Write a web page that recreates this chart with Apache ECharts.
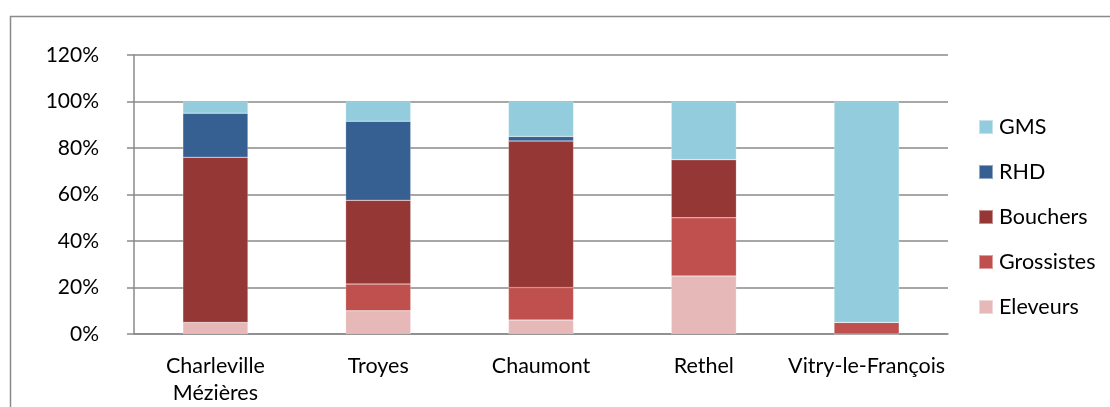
<!DOCTYPE html>
<html>
<head>
<meta charset="utf-8">
<script src="https://cdn.jsdelivr.net/npm/echarts@6/dist/echarts.min.js"></script>
<style>
html,body{margin:0;padding:0;background:#fff;}
#c{width:1110px;height:407px;}
</style>
</head>
<body>
<div id="c"></div>
<script>
const categories = ['Charleville\nMézières', 'Troyes', 'Chaumont', 'Rethel', 'Vitry-le-François'];
const eleveurs   = [5, 10, 6, 25, 0];
const grossistes = [0, 11.5, 14, 25, 5];
const bouchers   = [71, 36, 63, 25, 0];
const rhd        = [19, 34, 2, 0, 0];
const gms        = [5, 8.5, 15, 25, 95];
const yTicks = [0, 20, 40, 60, 80, 100, 120];

const colors = {
  Eleveurs: '#E6B9B8',
  Grossistes: '#C0504D',
  Bouchers: '#953735',
  RHD: '#376092',
  GMS: '#93CDDD'
};
const font = 'Lato, "Open Sans", sans-serif';

function mk(name, data) {
  return {
    name: name, type: 'bar', stack: 'all', data: data,
    barWidth: '40%',
    itemStyle: { color: colors[name], borderColor: 'rgba(255,255,255,0.45)', borderWidth: 0.5 },
    emphasis: { disabled: true }
  };
}

const chart = echarts.init(document.getElementById('c'), null, { renderer: 'canvas' });
chart.setOption({
  animation: false,
  backgroundColor: '#fff',
  graphic: [{
    type: 'rect', left: 8, top: 14, z: -1,
    shape: { x: 0, y: 0, width: 1200, height: 500 },
    style: { fill: 'none', stroke: '#8a8a8a', lineWidth: 1.5 }
  }],
  grid: { left: 134, right: 162, top: 55, bottom: 73 },
  legend: {
    orient: 'vertical', left: 973, top: 111,
    itemWidth: 14, itemHeight: 14, itemGap: 23,
    icon: 'rect',
    data: ['GMS', 'RHD', 'Bouchers', 'Grossistes', 'Eleveurs'],
    textStyle: { fontFamily: font, fontSize: 21.5, lineHeight: 20, color: '#000', padding: [0, 0, 0, 1] }
  },
  xAxis: {
    type: 'category', data: categories,
    axisLine: { lineStyle: { color: '#8a8a8a', width: 1.5 } },
    axisTick: { length: 7, lineStyle: { color: '#8a8a8a', width: 1.5 } },
    axisLabel: { fontFamily: font, fontSize: 21.5, color: '#000', margin: 19, lineHeight: 27, interval: 0 }
  },
  yAxis: {
    type: 'value', min: 0, max: 120, interval: 20,
    axisLine: { show: true, lineStyle: { color: '#8a8a8a', width: 1.5 } },
    axisTick: { show: true, length: 7, lineStyle: { color: '#8a8a8a', width: 1.5 } },
    splitLine: { lineStyle: { color: '#8a8a8a', width: 1.5 } },
    axisLabel: {
      fontFamily: font, fontSize: 21, color: '#000', margin: 35,
      formatter: v => yTicks.includes(v) ? v + '%' : ''
    }
  },
  series: [
    mk('Eleveurs', eleveurs),
    mk('Grossistes', grossistes),
    mk('Bouchers', bouchers),
    mk('RHD', rhd),
    mk('GMS', gms)
  ]
});
</script>
</body>
</html>
